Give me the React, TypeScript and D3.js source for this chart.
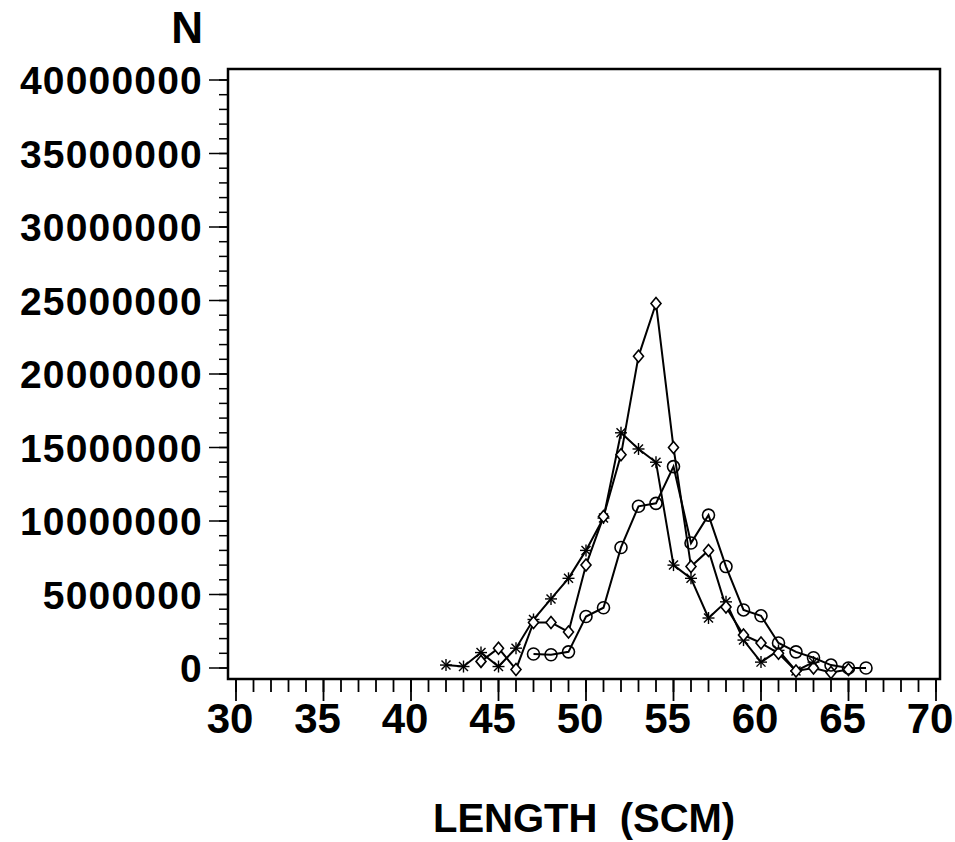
import React from "react";
import * as d3 from "d3";

const yTicks = [0, 5000000, 10000000, 15000000, 20000000, 25000000, 30000000, 35000000, 40000000];
const xTicks = [30, 35, 40, 45, 50, 55, 60, 65, 70];

const starX = [42, 43, 44, 45, 46, 47, 48, 49, 50, 51, 52, 53, 54, 55, 56, 57, 58, 59, 60, 61, 62, 63];
const starY = [0.2, 0.1, 1.05, 0.1, 1.35, 3.3, 4.7, 6.1, 8.0, 10.2, 16.0, 14.9, 14.0, 7.0, 6.1, 3.4, 4.5, 1.9, 0.4, 1.2, -0.2, 0.4].map(v => v * 1e6);

const diamondX = [44, 45, 46, 47, 48, 49, 50, 51, 52, 53, 54, 55, 56, 57, 58, 59, 60, 61, 62, 63, 64, 65];
const diamondY = [0.45, 1.35, -0.1, 3.1, 3.1, 2.45, 7.0, 10.3, 14.5, 21.2, 24.8, 15.0, 6.9, 8.0, 4.15, 2.25, 1.7, 1.0, -0.2, 0.0, -0.3, -0.1].map(v => v * 1e6);

const circleX = [47, 48, 49, 50, 51, 52, 53, 54, 55, 56, 57, 58, 59, 60, 61, 62, 63, 64, 65, 66];
const circleY = [0.95, 0.9, 1.1, 3.5, 4.1, 8.2, 11.0, 11.2, 13.7, 8.5, 10.4, 6.9, 3.95, 3.55, 1.7, 1.1, 0.7, 0.2, 0.0, 0.0].map(v => v * 1e6);

const FONT = "'Liberation Sans', Arial, Helvetica, sans-serif";

export default function App() {
  const x = d3.scaleLinear().domain([30, 70]).range([236, 936]);
  const y = d3.scaleLinear().domain([0, 40000000]).range([668, 80]);
  const frame = { left: 228, right: 940, top: 69, bottom: 679 };

  const line = d3.line<[number, number]>().x(d => x(d[0])).y(d => y(d[1]));
  const pts = (xs: number[], ys: number[]) => xs.map((v, i) => [v, ys[i]] as [number, number]);

  const minorY = d3.range(0, 40000001, 1000000);
  const minorX = d3.range(30, 71, 1);

  const star = (cx: number, cy: number, k: number) => {
    const r = 6;
    const d = r * 0.75;
    return (
      <g key={k} stroke="#000" strokeWidth={1.4}>
        <line x1={cx} y1={cy - r} x2={cx} y2={cy + r} />
        <line x1={cx - r} y1={cy} x2={cx + r} y2={cy} />
        <line x1={cx - d} y1={cy - d} x2={cx + d} y2={cy + d} />
        <line x1={cx - d} y1={cy + d} x2={cx + d} y2={cy - d} />
      </g>
    );
  };

  const diamond = (cx: number, cy: number, k: number) => (
    <path key={k} d={`M${cx},${cy - 6}L${cx + 5},${cy}L${cx},${cy + 6}L${cx - 5},${cy}Z`} fill="white" stroke="#000" strokeWidth={1.6} />
  );

  return (
    <svg width={955} height={842} style={{ position: "absolute", left: 0, top: 0, background: "white" }}>
      <rect x={0} y={0} width={955} height={842} fill="white" />
      <path
        d={`M${frame.left},${frame.top}H${frame.right}V${frame.bottom}H${frame.left}Z`}
        fill="none" stroke="#000" strokeWidth={2.5}
      />
      {minorY.map(v => (
        <line key={"ym" + v} x1={219} x2={frame.left} y1={y(v)} y2={y(v)} stroke="#000" strokeWidth={1.5} />
      ))}
      {yTicks.map(v => (
        <g key={"yt" + v}>
          <line x1={209} x2={frame.left} y1={y(v)} y2={y(v)} stroke="#000" strokeWidth={1.5} />
          <text x={203} y={y(v) + 14} textAnchor="end" fontFamily={FONT} fontWeight="bold" fontSize={39} letterSpacing={1.2} fill="#000">
            {v}
          </text>
        </g>
      ))}
      {minorX.map(v => (
        <line key={"xm" + v} x1={x(v)} x2={x(v)} y1={frame.bottom} y2={692} stroke="#000" strokeWidth={1.8} />
      ))}
      {xTicks.map(v => (
        <g key={"xt" + v}>
          <line x1={x(v)} x2={x(v)} y1={frame.bottom} y2={701} stroke="#000" strokeWidth={1.8} />
          <text x={x(v) - 6} y={733} textAnchor="middle" fontFamily={FONT} fontWeight="bold" fontSize={42} fill="#000">
            {v}
          </text>
        </g>
      ))}
      <text x={203} y={43} textAnchor="end" fontFamily={FONT} fontWeight="bold" fontSize={44} fill="#000">N</text>
      <text x={433} y={832} fontFamily={FONT} fontWeight="bold" fontSize={40} fill="#000" xmlSpace="preserve">
        {"LENGTH  (SCM)"}
      </text>

      <path d={line(pts(starX, starY)) || ""} fill="none" stroke="#000" strokeWidth={2} />
      <path d={line(pts(diamondX, diamondY)) || ""} fill="none" stroke="#000" strokeWidth={2} />
      <path d={line(pts(circleX, circleY)) || ""} fill="none" stroke="#000" strokeWidth={2} />

      {starX.map((v, i) => star(x(v), y(starY[i]), i))}
      {diamondX.map((v, i) => diamond(x(v), y(diamondY[i]), i))}
      {circleX.map((v, i) => (
        <circle key={"c" + i} cx={x(v)} cy={y(circleY[i])} r={6} fill="none" stroke="#000" strokeWidth={1.6} />
      ))}
    </svg>
  );
}
